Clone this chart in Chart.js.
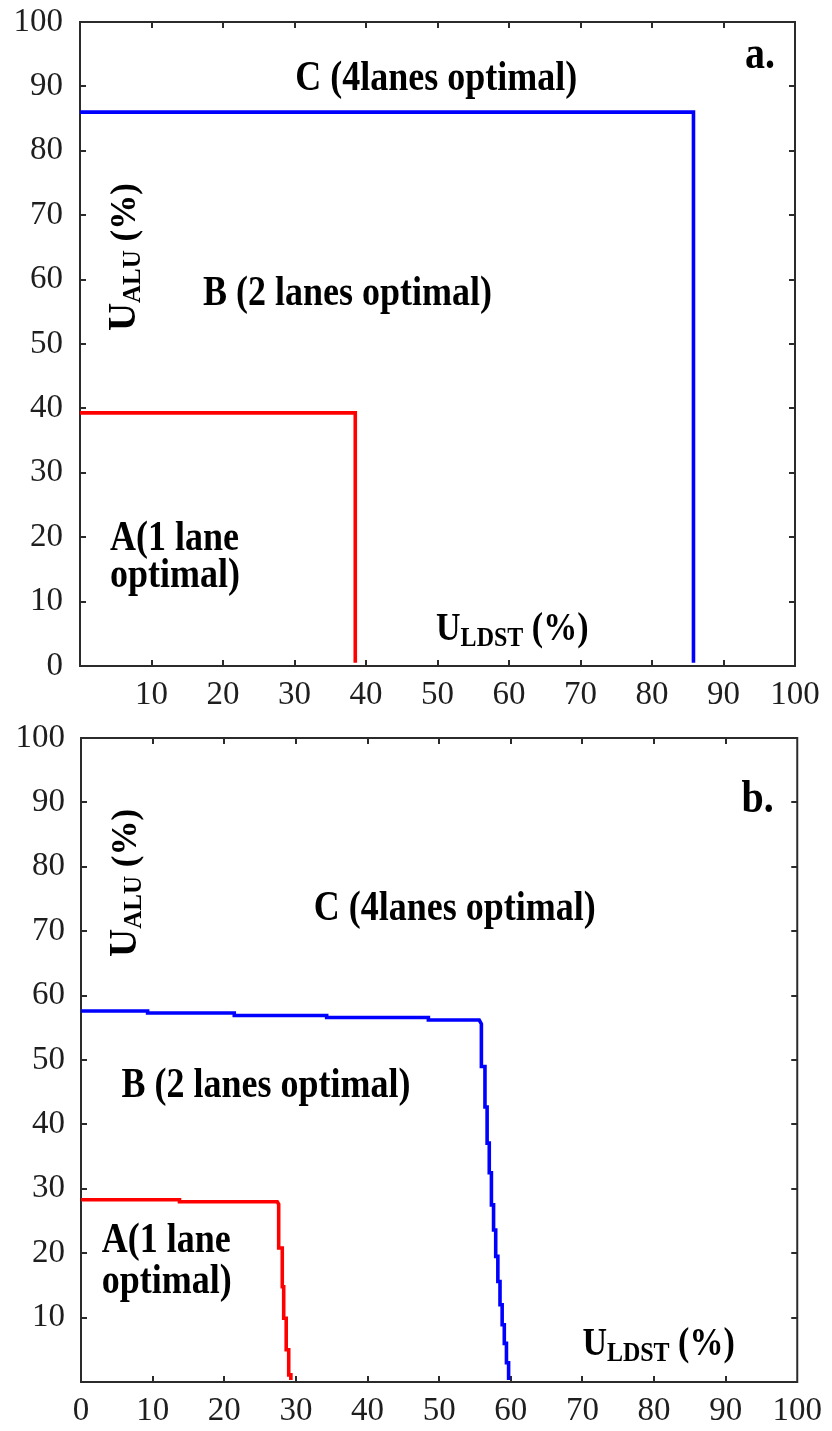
<!DOCTYPE html>
<html>
<head>
<meta charset="utf-8">
<script src="https://cdn.jsdelivr.net/npm/chart.js@4.4.1/dist/chart.umd.min.js"></script>
<style>
  html, body { margin: 0; padding: 0; background: #ffffff; }
  #wrap { position: relative; width: 832px; height: 1431px; }
  canvas { position: absolute; left: 0; display: block; }
  #chartA { top: 0; }
  #chartB { top: 716px; }
</style>
</head>
<body>
<div id="wrap">
  <canvas id="chartA" width="832" height="716"></canvas>
  <canvas id="chartB" width="832" height="715"></canvas>
</div>
<script>
// Tick values shared by both axes of both panels
const tickValues = [0, 10, 20, 30, 40, 50, 60, 70, 80, 90, 100];

// Panel a: region boundaries (U_LDST %, U_ALU %)
const aRedX  = [0, 38.5, 38.5];
const aRedY  = [39.3, 39.3, 0.5];
const aBlueX = [0, 85.8, 85.8];
const aBlueY = [86.0, 86.0, 0.5];

// Panel b: region boundaries (U_LDST %, U_ALU %)
const bRedX  = [0, 13.75, 13.75, 27.4, 27.6, 27.6, 28.1, 28.1, 28.3, 28.3, 28.65, 28.65, 29.0, 29.0, 29.3, 29.3];
const bRedY  = [28.3, 28.3, 28.0, 28.0, 27.6, 20.8, 20.8, 14.8, 14.8, 9.9, 9.9, 5.0, 5.0, 1.1, 1.1, 0.3];
const bBlueX = [0, 9.3, 9.3, 21.4, 21.4, 34.3, 34.3, 48.5, 48.5, 55.6, 55.9, 55.9, 56.4, 56.4, 56.7, 56.7,
                57.0, 57.0, 57.3, 57.3, 57.6, 57.6, 57.9, 57.9, 58.2, 58.2, 58.5, 58.5, 58.8, 58.8,
                59.1, 59.1, 59.4, 59.4, 59.7, 59.7];
const bBlueY = [57.6, 57.6, 57.3, 57.3, 56.9, 56.9, 56.6, 56.6, 56.2, 56.2, 55.6, 49.0, 49.0, 42.7, 42.7, 37.1,
                37.1, 32.5, 32.5, 27.5, 27.5, 23.6, 23.6, 19.5, 19.5, 15.6, 15.6, 12.0, 12.0, 8.9,
                8.9, 6.0, 6.0, 3.0, 3.0, 0.3];

// Region names and axis titles, placed in data coordinates
const aLabels = [
  { parts: [['C (4lanes optimal)', 36]], x: 30.1, y: 89.4 },
  { parts: [['a.', 40]], x: 93.0, y: 92.8 },
  { parts: [['B (2 lanes optimal)', 36]], x: 17.2, y: 56.0 },
  { parts: [['A(1 lane', 36]], x: 4.2, y: 18.0 },
  { parts: [['optimal)', 36]], x: 4.2, y: 12.3 },
  { parts: [['U', 34], ['LDST', 24, 5], [' (%)', 34]], x: 49.8, y: 4.0 },
  { parts: [['U', 39], ['ALU', 25, 5], [' (%)', 35]], x: 7.7, y: 52.0, rotate: true }
];
const bLabels = [
  { parts: [['b.', 40]], x: 92.2, y: 88.5 },
  { parts: [['C (4lanes optimal)', 36]], x: 32.5, y: 71.7 },
  { parts: [['B (2 lanes optimal)', 36]], x: 5.65, y: 44.3 },
  { parts: [['A(1 lane', 36]], x: 2.9, y: 20.2 },
  { parts: [['optimal)', 36]], x: 2.9, y: 13.8 },
  { parts: [['U', 34], ['LDST', 24, 5], [' (%)', 34]], x: 70.0, y: 4.2 },
  { parts: [['U', 39], ['ALU', 25, 5], [' (%)', 35]], x: 7.7, y: 66.0, rotate: true }
];

const RED = '#ff0000';
const BLUE = '#0000ff';
const FRAME = '#2b2b2b';
const TEXT_STRETCH = 1.15;

function toPoints(xs, ys) {
  return xs.map((x, i) => ({ x: x, y: ys[i] }));
}

// Box frame with short inward tick marks on all four sides
const frameTicks = {
  id: 'frameTicks',
  beforeDatasetsDraw(chart) {
    const { ctx, chartArea: a, scales } = chart;
    const len = 6;
    ctx.save();
    ctx.strokeStyle = FRAME;
    ctx.lineWidth = 2;
    ctx.strokeRect(a.left, a.top, a.right - a.left, a.bottom - a.top);
    ctx.beginPath();
    tickValues.forEach(v => {
      if (v === 0 || v === 100) return;
      const px = Math.round(scales.x.getPixelForValue(v));
      ctx.moveTo(px, a.bottom); ctx.lineTo(px, a.bottom - len);
      ctx.moveTo(px, a.top); ctx.lineTo(px, a.top + len);
      const py = Math.round(scales.y.getPixelForValue(v));
      ctx.moveTo(a.left, py); ctx.lineTo(a.left + len, py);
      ctx.moveTo(a.right, py); ctx.lineTo(a.right - len, py);
    });
    ctx.stroke();
    ctx.restore();
  }
};

// Bold region labels and axis titles with subscripts
const regionText = {
  id: 'regionText',
  afterDatasetsDraw(chart, args, opts) {
    const { ctx, scales } = chart;
    ctx.save();
    ctx.fillStyle = '#000000';
    ctx.textBaseline = 'alphabetic';
    ctx.textAlign = 'left';
    (opts.items || []).forEach(item => {
      const px = scales.x.getPixelForValue(item.x);
      const py = scales.y.getPixelForValue(item.y);
      ctx.save();
      ctx.translate(px, py);
      if (item.rotate) {
        ctx.rotate(-Math.PI / 2);
      } else {
        ctx.scale(1, TEXT_STRETCH);
      }
      let cx = 0;
      item.parts.forEach(([t, size, dy]) => {
        ctx.font = 'bold ' + size + 'px "Liberation Serif", serif';
        ctx.fillText(t, cx, dy || 0);
        cx += ctx.measureText(t).width;
      });
      ctx.restore();
    });
    ctx.restore();
  }
};

function makePanel(canvasId, series, labels, layout) {
  const axis = (hideZero, fitSize, horizontal, pad) => ({
    type: 'linear',
    min: 0,
    max: 100,
    afterBuildTicks: s => { s.ticks = tickValues.map(v => ({ value: v })); },
    afterFit: s => { if (horizontal) s.height = fitSize; else s.width = fitSize; },
    ticks: {
      // a tight line height on the vertical axis keeps the end labels from pushing the plot inward
      font: { family: '"Liberation Serif", serif', size: 33, lineHeight: horizontal ? 1.2 : 0.25 },
      color: '#1e1e1e',
      padding: pad,
      autoSkip: false,
      maxRotation: 0,
      callback: v => (hideZero && v === 0 ? '' : String(v))
    },
    grid: { display: false, drawTicks: false, tickLength: 0 },
    border: { display: false }
  });

  return new Chart(document.getElementById(canvasId), {
    type: 'scatter',
    data: {
      datasets: series.map(s => ({
        data: toPoints(s.x, s.y),
        showLine: true,
        borderColor: s.color,
        backgroundColor: s.color,
        borderWidth: 3.6,
        pointRadius: 0,
        pointHoverRadius: 0,
        tension: 0,
        fill: false,
        clip: 4
      }))
    },
    options: {
      responsive: false,
      animation: false,
      devicePixelRatio: 1,
      layout: { padding: layout.padding },
      scales: {
        x: axis(layout.hideZeroX, layout.xHeight, true, layout.xPad),
        y: axis(layout.hideZeroY, layout.yWidth, false, layout.yPad)
      },
      plugins: {
        legend: { display: false },
        tooltip: { enabled: false },
        regionText: { items: labels }
      }
    },
    plugins: [frameTicks, regionText]
  });
}

makePanel('chartA',
  [{ x: aRedX, y: aRedY, color: RED }, { x: aBlueX, y: aBlueY, color: BLUE }],
  aLabels,
  { padding: { top: 22, right: 37, left: 0, bottom: 0 }, xHeight: 50, yWidth: 80,
    hideZeroX: true, hideZeroY: false, xPad: 10, yPad: 17 });

makePanel('chartB',
  [{ x: bRedX, y: bRedY, color: RED }, { x: bBlueX, y: bBlueY, color: BLUE }],
  bLabels,
  { padding: { top: 22, right: 31, left: 0, bottom: 0 }, xHeight: 49, yWidth: 81,
    hideZeroX: false, hideZeroY: true, xPad: 10, yPad: 16 });
</script>
</body>
</html>
